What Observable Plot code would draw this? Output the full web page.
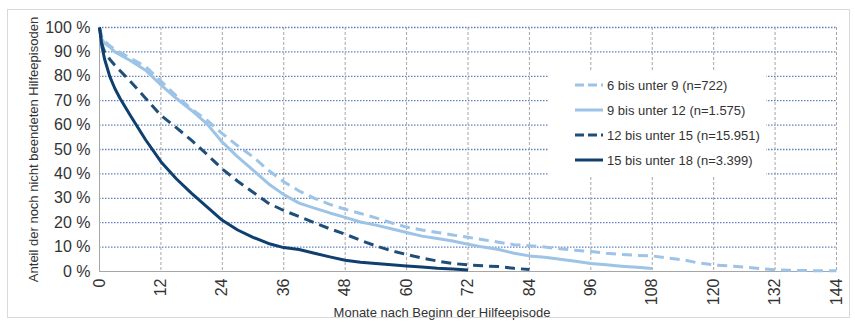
<!DOCTYPE html>
<html>
<head>
<meta charset="utf-8">
<script src="https://cdn.jsdelivr.net/npm/d3@7"></script>
<script src="https://cdn.jsdelivr.net/npm/@observablehq/plot@0.6"></script>
<style>
  html, body { margin: 0; padding: 0; background: #fff; }
  #wrap { position: relative; width: 855px; height: 324px; font-family: "Liberation Sans", Arial, sans-serif; }
  #border { position: absolute; left: 7px; top: 9px; width: 843px; height: 309px; box-sizing: border-box; border: 1px solid #d9d9d9; pointer-events: none; }
  #legend { position: absolute; left: 548px; top: 72px; width: 218px; height: 104px; background: #fff; }
  .row { position: absolute; left: 0; height: 20px; display: flex; align-items: center; font-size: 13px; color: #333; white-space: nowrap; }
  .row svg { margin-left: 27px; margin-right: 4px; }
  #chart { position: absolute; left: 0; top: 0; }
</style>
</head>
<body>
<div id="wrap">
  <div id="chart"></div>
  <div id="border"></div>
  <div id="legend"></div>
</div>
<script>
// Series labels
const seriesNames = ["6 bis unter 9 (n=722)", "9 bis unter 12 (n=1.575)", "12 bis unter 15 (n=15.951)", "15 bis unter 18 (n=3.399)"];

// 6 bis unter 9
const months6 = [0,0.5,1,2,3,6,9,12,15,18,21,24,27,30,33,36,39,42,45,48,51,54,57,60,63,66,69,72,75,78,81,84,87,90,93,96,99,102,105,108,111,114,117,120,123,126,129,132,135,138,141,144];
const values6 = [100,96,94.5,92.5,91,87.5,84,78,72,66.5,62,56.5,51.5,47,41.5,36.8,33,30,27.5,25.5,23.8,22,20,18.2,17,16,15,14,13,12,11,10.6,10,9.3,8.7,8.2,7.5,7,6.6,6.4,5.5,4.8,3.5,2.7,2.3,1.8,1.2,0.7,0.5,0.4,0.3,0.3];

// 9 bis unter 12
const months9 = [0,0.5,1,2,3,6,9,12,15,18,21,24,27,30,33,36,39,42,45,48,51,54,57,60,63,66,69,72,75,78,81,84,87,90,93,96,99,102,105,108];
const values9 = [100,95,93.5,92,90,86.5,82.5,76.5,71,66,60.5,53,47,41.5,36,31.5,28,26,24,22.2,20.3,19,17.5,16,14.5,13.5,12.5,11.2,10,9,7.5,6.4,5.8,5,4.2,3.3,2.8,2.2,1.7,1.2];

// 12 bis unter 15
const months12 = [0,0.5,1,2,3,6,9,12,15,18,21,24,27,30,33,36,39,42,45,48,51,54,57,60,63,66,69,72,75,78,81,84];
const values12 = [100,93,90,87,84.5,78,71,64,59,53.7,48,42,37,32.5,28,25,22.5,20,17.5,15.3,12.8,10.5,8.5,7,5.5,4.3,3.3,2.7,2.3,2,1.3,0.8];

// 15 bis unter 18
const months15 = [0,0.5,1,2,3,4,6,9,12,15,18,21,24,27,30,33,36,39,42,45,48,51,54,57,60,63,66,69,72];
const values15 = [100,92,87,80,75,71,64,54,45,38,32,26.5,21,17,14,11.5,9.8,9,7.5,6,4.6,3.8,3.3,2.8,2.3,1.8,1.3,1,0.6];

const xTicks = [0,12,24,36,48,60,72,84,96,108,120,132,144];
const yTicks = [0,10,20,30,40,50,60,70,80,90,100];
const xTitle = "Monate nach Beginn der Hilfeepisode";
const yTitle = "Anteil der noch nicht beendeten Hilfeepisoden";

const colors = ["#9dc3e6", "#9dc3e6", "#1f4e79", "#0f3f6e"];
const dashes = ["10,6", null, "10,6", null];

const seriesData = [[months6, values6], [months9, values9], [months12, values12], [months15, values15]]
  .map(([ms, vs], i) => ms.map((m, j) => ({s: seriesNames[i], m, v: vs[j]})));

const lineMarks = seriesData.map((d, i) => Plot.line(d, {
  x: "m", y: "v", stroke: colors[i], strokeWidth: 3,
  strokeDasharray: dashes[i] || undefined, strokeLinecap: "butt", strokeLinejoin: "round"
}));

const chart = Plot.plot({
  width: 855, height: 324,
  marginLeft: 99, marginRight: 19, marginTop: 27, marginBottom: 53,
  x: {domain: [0, 144]},
  y: {domain: [0, 100]},
  style: {fontFamily: "'Liberation Sans', Arial, sans-serif", fontSize: "16px", color: "#333", background: "transparent"},
  marks: [
    Plot.gridY(yTicks.filter(d => d > 0), {stroke: "#4f74b8", strokeOpacity: 0.9, strokeDasharray: "1.5,1.5", strokeWidth: 1.3}),
    Plot.gridX(xTicks.filter(d => d > 0), {stroke: "#a6a6a6", strokeOpacity: 1, strokeDasharray: "3,2"}),
    Plot.ruleX([0], {stroke: "#a6a6a6"}),
    Plot.ruleY([0], {stroke: "#a6a6a6"}),
    Plot.axisY(yTicks, {tickSize: 0, tickPadding: 9, tickFormat: d => d + " %", label: null, fontSize: 16}),
    Plot.axisX(xTicks, {tickSize: 0, tickPadding: 7, tickRotate: -90, label: null, fontSize: 16}),
    ...lineMarks,
    Plot.text([yTitle], {text: d => d, frameAnchor: "left", rotate: -90, dx: -66, textAnchor: "middle", lineAnchor: "middle", fontSize: 13, fill: "#333"}),
    Plot.text([xTitle], {text: d => d, frameAnchor: "bottom", dx: -26, dy: 41, textAnchor: "middle", lineAnchor: "middle", fontSize: 13, fill: "#333"})
  ]
});
document.getElementById("chart").appendChild(chart);

// Legend
const legend = document.getElementById("legend");
seriesNames.forEach((name, i) => {
  const row = document.createElement("div");
  row.className = "row";
  row.style.top = (3 + i * 25) + "px";
  const dash = dashes[i] ? `stroke-dasharray="9,4"` : "";
  row.innerHTML = `<svg width="28" height="6"><line x1="0" y1="3" x2="28" y2="3" stroke="${colors[i]}" stroke-width="3" ${dash}/></svg><span>${name}</span>`;
  legend.appendChild(row);
});
</script>
</body>
</html>
